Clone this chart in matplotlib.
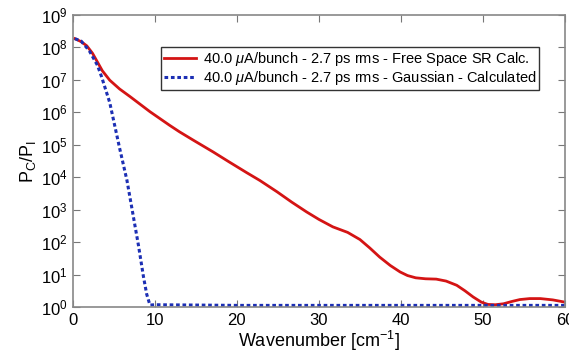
import numpy as np
import matplotlib.pyplot as plt
from matplotlib.ticker import NullLocator, FixedLocator

plt.rcParams['font.family'] = ['Liberation Sans', 'DejaVu Sans']
plt.rcParams['mathtext.fontset'] = 'custom'
plt.rcParams['mathtext.rm'] = 'Liberation Sans'
plt.rcParams['mathtext.it'] = 'Liberation Sans:italic'

# free space SR calculation (log10 values)
sr_k = [0.25, 1.0, 1.7, 2.4, 3.0, 3.6, 4.5, 5.7, 7.0, 9.4, 11.8, 13.0, 14.7,
        17.1, 19.0, 21.2, 22.8, 24.9, 26.7, 28.5, 30.0, 31.7, 33.5, 35.0,
        36.2, 37.4, 38.7, 39.9, 40.8, 41.8, 43.0, 44.3, 45.5, 46.8, 47.8,
        48.8, 49.8, 50.6, 51.5, 52.5, 53.5, 54.5, 55.7, 57.0, 58.5, 60.0]
sr_log = [8.27, 8.18, 8.05, 7.82, 7.55, 7.28, 6.99, 6.72, 6.48, 6.02, 5.60,
          5.40, 5.14, 4.78, 4.48, 4.14, 3.90, 3.55, 3.23, 2.93, 2.70, 2.47,
          2.30, 2.08, 1.82, 1.54, 1.28, 1.08, 0.97, 0.90, 0.87, 0.86, 0.80,
          0.67, 0.50, 0.31, 0.15, 0.08, 0.07, 0.10, 0.17, 0.23, 0.26, 0.26,
          0.22, 0.15]

# gaussian calculation
g_k = [0.25, 1.0, 2.0, 3.0, 3.5, 4.5, 5.7, 6.6, 7.3, 8.0, 8.6, 9.0, 9.4,
       10.0, 20.0, 30.0, 40.0, 50.0, 60.0]
g_log = [8.27, 8.20, 7.90, 7.45, 7.10, 6.30, 4.90, 3.90, 2.90, 1.90, 0.95,
         0.40, 0.06, 0.07, 0.05, 0.05, 0.05, 0.05, 0.05]

sr_label = r'40.0 $\mu$A/bunch - 2.7 ps rms - Free Space SR Calc.'
g_label = r'40.0 $\mu$A/bunch - 2.7 ps rms - Gaussian - Calculated'

fig = plt.figure(figsize=(5.69, 3.57), dpi=100)
ax = fig.add_axes([0.128, 0.140, 0.865, 0.818])

ax.plot(sr_k, 10 ** np.array(sr_log), color='#d41414', lw=2.0, label=sr_label)
ax.plot(g_k, 10 ** np.array(g_log), color='#1c2fb4', lw=2.2,
        linestyle=(0, (1.2, 0.9)), label=g_label)

ax.set_yscale('log')
ax.set_xlim(0, 60)
ax.set_ylim(1, 1e9)
ax.yaxis.set_major_locator(FixedLocator([10.0 ** n for n in range(10)]))
ax.yaxis.set_minor_locator(NullLocator())
ax.set_xticks([0, 10, 20, 30, 40, 50, 60])

ax.tick_params(direction='in', top=True, right=True, length=5,
               color='#777777', labelsize=12, pad=4)
for s in ax.spines.values():
    s.set_color('#888888')
    s.set_linewidth(1.2)

ax.set_xlabel(r'Wavenumber [cm$^{-1}$]', fontsize=13, labelpad=1)
ax.set_ylabel(r'P$_\mathrm{C}$/P$_\mathrm{I}$', fontsize=13, labelpad=2)

leg = ax.legend(loc='upper right', bbox_to_anchor=(0.948, 0.89), fontsize=10.5,
                handlelength=2.2, handletextpad=0.5, borderpad=0.2,
                labelspacing=0.05, borderaxespad=0, fancybox=False,
                framealpha=1)
leg.get_frame().set_edgecolor('#333333')
leg.get_frame().set_linewidth(1.0)

fig.savefig('out.png', dpi=100)
